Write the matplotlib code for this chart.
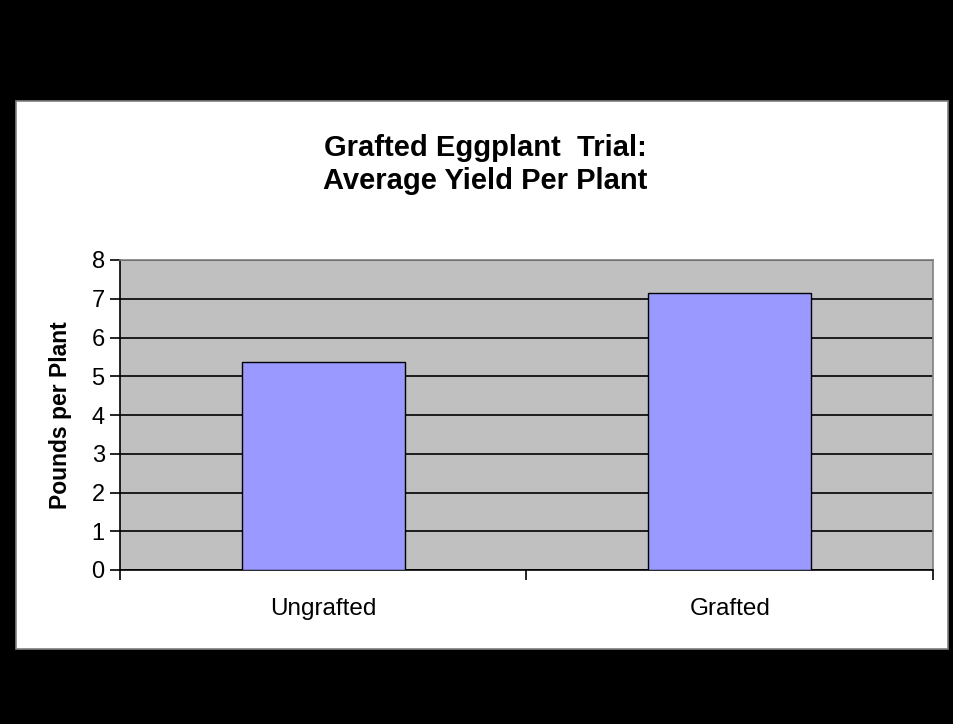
import matplotlib.pyplot as plt
from matplotlib.patches import Rectangle

categories = ["Ungrafted", "Grafted"]
yield_lbs = [5.37, 7.15]
y_ticks = [0, 1, 2, 3, 4, 5, 6, 7, 8]

BAR_COLOR = "#9999FF"
PLOT_BG = "#C0C0C0"

plt.rcParams["font.family"] = ["Liberation Sans", "DejaVu Sans"]

W, H = 954, 724
fig = plt.figure(figsize=(W / 100, H / 100), dpi=100, facecolor="black")

# white chart panel on the black page
panel = Rectangle((16 / W, 1 - 649 / H), (948 - 16) / W, (649 - 101) / H,
                  transform=fig.transFigure, facecolor="white",
                  edgecolor="#808080", linewidth=1.2, zorder=-5)
fig.patches.append(panel)

ax = fig.add_axes([120 / W, 1 - 570 / H, (933 - 120) / W, (570 - 260) / H])
ax.set_zorder(2)
ax.set_facecolor(PLOT_BG)

x = list(range(len(categories)))
ax.bar(x, yield_lbs, width=0.4, color=BAR_COLOR, edgecolor="black",
       linewidth=1.0, zorder=3)

ax.set_xlim(-0.5, len(categories) - 0.5)
ax.set_ylim(0, 8)
ax.set_yticks(y_ticks)
ax.grid(axis="y", color="black", linewidth=1.2, zorder=1)
ax.set_axisbelow(True)

# category boundary tick marks, labels in the middle
ax.set_xticks([-0.5, 0.5, 1.5])
ax.set_xticklabels([])
ax.set_xticks(x, minor=True)
ax.set_xticklabels(categories, minor=True, fontsize=17.5)
ax.tick_params(axis="x", which="major", length=7, width=1.2, color="black")
ax.tick_params(axis="x", which="minor", length=0, pad=20)
ax.tick_params(axis="y", length=7, width=1.2, labelsize=17, pad=4)

for side in ["top", "right"]:
    ax.spines[side].set_color("#808080")
    ax.spines[side].set_linewidth(1.2)
for side in ["left", "bottom"]:
    ax.spines[side].set_color("black")
    ax.spines[side].set_linewidth(1.2)

ax.set_ylabel("Pounds per Plant", fontsize=16.5, fontweight="bold", labelpad=14)

fig.text(485 / W, 1 - 148 / H, "Grafted Eggplant  Trial:", ha="center",
         va="center", fontsize=21, fontweight="bold")
fig.text(485 / W, 1 - 181 / H, "Average Yield Per Plant", ha="center",
         va="center", fontsize=21, fontweight="bold")

fig.savefig("out.png", dpi=100, facecolor="black")
